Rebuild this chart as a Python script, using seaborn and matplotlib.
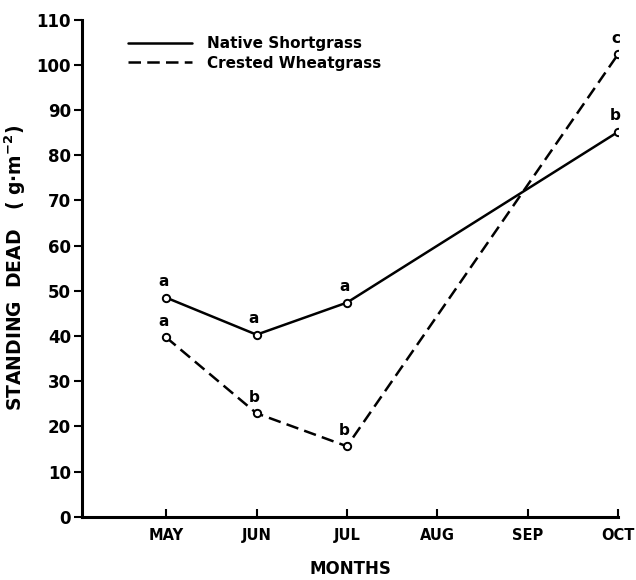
import numpy as np
import pandas as pd
import matplotlib
matplotlib.use("Agg")
import matplotlib.pyplot as plt
import seaborn as sns
from matplotlib.lines import Line2D

MONTHS = ["MAY", "JUN", "JUL", "AUG", "SEP", "OCT"]

# sampled months (positions into MONTHS)
native_months = ["MAY", "JUN", "JUL", "OCT"]
native_values = [48.5, 40.3, 47.4, 85.2]
native_letters = ["a", "a", "a", "b"]

crested_months = ["MAY", "JUN", "JUL", "OCT"]
crested_values = [39.7, 22.9, 15.6, 102.4]
crested_letters = ["a", "b", "b", "c"]

Y_TICKS = list(range(0, 111, 10))

sns.set_style("ticks", {"axes.edgecolor": "black", "text.color": "black",
                        "axes.labelcolor": "black", "xtick.color": "black",
                        "ytick.color": "black"})
plt.rcParams["font.family"] = ["DejaVu Sans"]
plt.rcParams["font.weight"] = "bold"

df = pd.concat([
    pd.DataFrame({"month": native_months, "value": native_values,
                  "letter": native_letters, "series": "Native Shortgrass"}),
    pd.DataFrame({"month": crested_months, "value": crested_values,
                  "letter": crested_letters, "series": "Crested Wheatgrass"}),
], ignore_index=True)
df["pos"] = df["month"].map({m: i for i, m in enumerate(MONTHS)})

fig = plt.figure(figsize=(6.36, 5.8), dpi=100)
ax = fig.add_axes([0.129, 0.109, 0.843, 0.857])

sns.lineplot(data=df, x="pos", y="value", style="series",
             dashes={"Native Shortgrass": "", "Crested Wheatgrass": (5, 2.5)},
             color="black", linewidth=1.8, legend=False, ax=ax)
sns.scatterplot(data=df, x="pos", y="value", marker="o", s=28,
                facecolor="white", edgecolor="black", linewidth=1.4,
                zorder=3, legend=False, ax=ax)

for _, r in df.iterrows():
    ax.annotate(r["letter"], (r["pos"], r["value"]), xytext=(-2, 6),
                textcoords="offset points", ha="center", va="bottom",
                fontsize=11, fontweight="bold", color="black")

ax.set_xlim(-0.93, 5.0)
ax.set_ylim(0, 110)
ax.set_xticks(range(len(MONTHS)))
ax.set_xticklabels(MONTHS)
ax.set_yticks(Y_TICKS)
ax.tick_params(axis="x", direction="in", length=6, width=1.5, labelsize=10.5, pad=8)
ax.tick_params(axis="y", direction="out", length=6, width=1.5, labelsize=12, pad=2)
for lab in ax.get_xticklabels() + ax.get_yticklabels():
    lab.set_fontweight("bold")

ax.set_xlabel("MONTHS", fontsize=12, fontweight="bold", labelpad=12)
ax.set_ylabel("STANDING  DEAD   ( g$\\cdot$m$^{-2}$)", fontsize=13.5,
              fontweight="bold", labelpad=6)

sns.despine(ax=ax)
for side in ("left", "bottom"):
    ax.spines[side].set_linewidth(2.2)

handles = [Line2D([], [], color="black", lw=1.8, ls="-"),
           Line2D([], [], color="black", lw=1.8, ls=(0, (5, 2.5)))]
ax.legend(handles, ["Native Shortgrass", "Crested Wheatgrass"],
          loc="upper left", bbox_to_anchor=(0.06, 0.995), frameon=False,
          handlelength=4.2, handletextpad=1.0, labelspacing=0.3,
          prop={"size": 11, "weight": "bold"})

fig.savefig("out.png", dpi=100)
